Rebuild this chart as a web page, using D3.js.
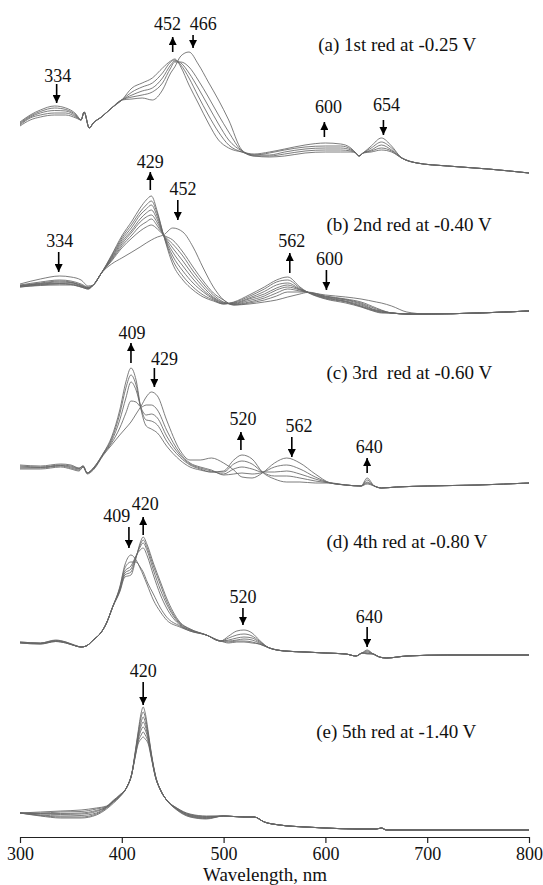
<!DOCTYPE html>
<html>
<head>
<meta charset="utf-8">
<title>Spectral changes on stepwise reduction</title>
<script src="https://d3js.org/d3.v7.min.js"></script>
<style>
  body { margin: 0; background: #fff; }
  svg text { font-family: "Liberation Serif", "Times New Roman", serif; fill: #111; }
</style>
</head>
<body>
<svg id="chart"></svg>
<script>
// ---- data (absorbance, arbitrary units, relative to each panel's baseline) ----

// (a) 1st reduction
const wlA = [300,310,320,334,345,355,360,363,368,372,380,390,400,410,420,430,440,448,452,458,466,475,485,495,505,518,530,545,560,580,600,615,625,630,633,637,645,655,665,675,690,720,760,800];
const specA = [
  [51,58,63,67,65,59,53,61,45,50,56,65,73,74,75,73,83,100,106,117,121,109,91,73,53,23,17,16,17,20,21,21,21,20,17,20,27,35,27,15,10,7,4,0],
  [50,57,61.5,65,63.5,58,53,61,45,50,56,65,73,76,78,81,90,105,111,111,106,93,76,58,41,22,17,17,19,22,23,23,22,20,17,20,25,31,25,15,10,7,4,0],
  [49,56,60,62.5,62,57,53,61,45,50,56,65,73,78,82,85,95,108,112,110,100,85,67,49,33,22,18,18,21,24,25,25,23,20,17,20,23,28,23,15,10,7,4,0],
  [48,55,58,60,60,56,53,61,45,50,56,65,73,81,86,90,100,111,113,108,95,77,58,41,28,21,18,20,23,26,27,27,24,20,17,20,22,25,22,15,10,7,4,0],
  [47,53,56,58,58,55,53,61,45,50,56,65,73,85,90,95,105,112,114,106,88,70,50,33,25,21,19,21,24,28,30,29,25,20,17,20,21,23,21,15,10,7,4,0]
];

// (b) 2nd reduction
const wlB = [300,320,339,350,360,367,372,380,390,400,410,418,424,429,435,441,450,460,470,480,490,500,510,525,540,552,563,575,582,600,620,635,650,655,665,680,700,750,800];
const specB = [
  [28,33,36,35,32,26,27,39,48,54,60,65,69,72,75,77,84,80,65,44,25,12,7,8,10,12,15,18,19.5,17,15,13,10,9,6,0,-2,-1,1],
  [27,30,32,31,28,25,27,39,51,64,74,81,85,87,83,77,72,60,45,31,19,12,7,9,12,16,20,20,20,16,13,10,4,2,-1,-2,-2,-1,1],
  [26.5,29,31,30,27,24.5,27,39,52,66,77,86,90,93,86,77,68,56,41,28,17,10,7.5,10,14,19,23,21,20,15.5,12.5,9,3,1.5,-1,-2,-2,-1,1],
  [26,28.5,30,29.5,26.5,24,27,39,53,68,80,90,95,97,89,77,64,51,37,25,15,9.5,8,11.5,16,22,25,22,20,15,12,8,2,1,-1,-2,-2,-1,1],
  [26,28,29,29,26,24,27,39,54,70,82,93,99,102,92,77,60,46,33,22,14,9,8.5,13,18,24,27,22.5,20,14.5,11,7,1.5,0.5,-1,-2,-2,-1,1],
  [25.5,27.5,28.5,28,25.5,23.5,27,39,55,72,85,97,103,107,95,77,56,41,29,20,13,8.5,9,14,20.5,27,29,23,20,14,10.5,6,1,0,-1,-2,-2,-1,1],
  [25,27,28,27.5,25,23,27,39,56,74,88,100,107,111,98,77,52,36,25,17,12,8,9.5,15.5,23,30,32,24,20,13.5,10,5.5,0.5,-0.5,-1,-2,-2,-1,1],
  [25,26.5,27,27,25,23,27,39,57,76,91,104,112,116,100,77,48,32,22,15,11,8,10,17,25,32,35,25,20,13,9,5,0,-1,-1,-2,-2,-1,1]
];

// (c) 3rd reduction
const wlC = [300,320,340,350,358,362,366,372,382,390,398,404,409,414,419,424,429,435,444,457,467,477,488,500,510,518,528,538,550,562,575,590,605,620,635,641,648,655,670,700,750,800];
const specC = [
  [14,14,16,14,12,16,9,13,28,38,48,55,61,69,77,86,91,87,63,33,23,23,25,20,13,6,5,10,20,25,20,9,0,-2,-3,-1,-3,-5,-4,-3,-2,0],
  [15,15,17,15,13,16,10,14,29,40,55,70,82,81,76,78,78,73,53,30,20,16,13,8,9,10,9,10.5,16,18,14,6,0,-2,-3,0,-3,-5,-4,-3,-2,0],
  [16,15.5,17.5,16,14,17,10,14,29,42,63,85,101,93,75,68,69,65,47,28,19,15,12,9,14,16,14,11,11,12,9,4,0,-2,-3,1,-3,-5,-4,-3,-2,0],
  [17,16,18,17,14.5,17,10,15,30,44,69,95,108,98,74,63,62,58,42,26,18,14,11,11,19,22,19,11,7,7,5,2,0,-2,-3,3,-3,-5,-4,-3,-2,0],
  [18,17,19,18,15,17,10,15,30,46,73,101,115,103,73,57,54,50,37,23,16,13,11,12,23,28,24,11,4,1,1,0,0,-2,-3,5,-3,-5,-4,-3,-2,0]
];

// (d) 4th reduction
const wlD = [300,320,335,345,355,360,365,372,380,385,391,398,403,409,414,418,421,425,431,438,444,457,467,483,497,505,513,520,528,535,545,560,580,600,620,630,636,641,647,653,660,680,720,760,800];
const specD = [
  [13,12,15,13,9.5,8,9,15,23,32,48,68,90,100,95,87,80,70,55,43,35,28,24,20,14,19,24,25,22,15,7,4,3,2,1,-1,2,5,1,-2,-3,-1,0,0,0],
  [13,12,14.5,13,9,8,9,15,23,32,48,67,87,93,93,88,83,73,61,47,38,29,24,20,14,17,20,21,19,14,7,4,3,2,1,-1,2,4,1,-2,-3,-1,0,0,0],
  [12.5,11.5,14,12.5,9,8,9,15,23,32,48,66,84,89,99,105,107,99,80,60,47,30,25,20,14,15,17,18,17,13,7,4,3,2,1,-1,2,3,1,-2,-3,-1,0,0,0],
  [12.5,11.5,14,12.5,9,8,9,15,23,32,48,65,82,86,99,108,112,104,85,65,51,31,25,20,14,14,15,16,15,12,7,4,3,2,1,-1,2,2,1,-2,-3,-1,0,0,0],
  [12,11,13.5,12,9,8,9,15,23,32,48,64,80,83,98,110,115,107,89,70,54,32,26,20,14,13,14,14,13,11,7,4,3,2,1,-1,2,1.5,1,-2,-3,-1,0,0,0],
  [12,11,13.5,12,9,8,9,15,23,32,48,63,78,80,97,112,118,110,92,73,57,33,26,20,14,12,13,13,12,11,7,4,3,2,1,-1,2,1,1,-2,-3,-1,0,0,0]
];

// (e) 5th reduction
const wlE = [300,320,340,360,375,385,392,398,405,410,413,416,419,421,423,426,429,433,438,444,454,467,483,500,520,530,540,555,580,600,630,650,655,660,700,750,800];
const specE = [
  [17,14,12,12,15,21,27,33,43,57,77,98,117,123,117,98,77,55,40,30,20,13,11,14,13,13,8,5,3,2,1,1,2,0,0,0,0],
  [17,14.5,13,13,16,22,28,33.5,43,57,76,96,113,118,113,96,76,54.5,40,30,20.5,13.5,11.5,14,13,13,8,5,3,2,1,1,2,0,0,0,0],
  [17,15,14,14.5,17,22.5,28.5,34,43,57,75,94,108,113,108,94,75,54,40,30,21,14,12,14,13,13,8,5,3,2,1,1,2,0,0,0,0],
  [17,16,15.5,16,18.5,23,29,34,43,57,74.5,92,104,108,104,92,74.5,54,40,30,21,14.5,12.5,14,13,13,8,5,3,2,1,1,2,0,0,0,0],
  [17,16.5,16.5,17,19.5,23,29,34.5,43,57,74,90,100,103,100,90,74,53.5,40,30,21.5,15,13,14,13,13,8,5,3,2,1,1,2,0,0,0,0],
  [17,17,18,18.5,21,23.5,29.5,35,43,57,73,88,95,98,95,88,73,53,40,30,22,15.5,13.5,14,13,13,8,5,3,2,1,1,2,0,0,0,0],
  [17,18,19,20,22,24,30,35,43,57,72,86,91,93,91,86,72,53,40,30,22,16,14,14,13,13,8,5,3,2,1,1,2,0,0,0,0]
];

// vertical offset of each stacked panel (same units)
const panelOffsets = [664, 525, 354, 182, 7];

const captions = [
  "(a) 1st red at -0.25 V",
  "(b) 2nd red at -0.40 V",
  "(c) 3rd  red at -0.60 V",
  "(d) 4th red at -0.80 V",
  "(e) 5th red at -1.40 V"
];
// caption anchor: [wavelength of left edge, baseline value]
const captionAt = [[593, 122], [601, 81], [601, 104], [601, 107], [591, 92]];

// peak labels: label position (lx, ly), arrow at ax from value a0 to a1 (head at a1)
const peaks = [
  {p: 0, t: "334", lx: 337, ly: 91,  ax: 336, a0: 89,  a1: 70},
  {p: 0, t: "452", lx: 445, ly: 143, ax: 450, a0: 121, a1: 136},
  {p: 0, t: "466", lx: 480, ly: 143, ax: 470, a0: 138, a1: 125},
  {p: 0, t: "600", lx: 603, ly: 60,  ax: 599, a0: 36,  a1: 51},
  {p: 0, t: "654", lx: 660, ly: 62,  ax: 657, a0: 53,  a1: 38},
  {p: 1, t: "429", lx: 428, ly: 144, ax: 428, a0: 122, a1: 140},
  {p: 1, t: "452", lx: 460, ly: 117, ax: 455, a0: 112, a1: 92},
  {p: 1, t: "334", lx: 339, ly: 65,  ax: 338, a0: 60,  a1: 40},
  {p: 1, t: "562", lx: 567, ly: 65,  ax: 565, a0: 39,  a1: 59},
  {p: 1, t: "600", lx: 604, ly: 47,  ax: 601, a0: 42,  a1: 22},
  {p: 2, t: "409", lx: 410, ly: 144, ax: 409, a0: 120, a1: 140},
  {p: 2, t: "429", lx: 442, ly: 118, ax: 432, a0: 115, a1: 96},
  {p: 2, t: "520", lx: 519, ly: 58,  ax: 517, a0: 33,  a1: 51},
  {p: 2, t: "562", lx: 574, ly: 51,  ax: 567, a0: 46,  a1: 26},
  {p: 2, t: "640", lx: 643, ly: 30,  ax: 641, a0: 10,  a1: 25},
  {p: 3, t: "409", lx: 395, ly: 133, ax: 407, a0: 128, a1: 107},
  {p: 3, t: "420", lx: 423, ly: 145, ax: 421, a0: 120, a1: 138},
  {p: 3, t: "520", lx: 519, ly: 52,  ax: 519, a0: 47,  a1: 30},
  {p: 3, t: "640", lx: 643, ly: 32,  ax: 641, a0: 28,  a1: 8},
  {p: 4, t: "420", lx: 421, ly: 153, ax: 421, a0: 148, a1: 125}
];

const xTicks = [300, 400, 500, 600, 700, 800];
const xTitle = "Wavelength, nm";

// ---- drawing ----
const width = 543, height = 885;
const svg = d3.select("#chart").attr("width", width).attr("height", height);

const x = d3.scaleLinear().domain([300, 800]).range([20, 529]);
const y = d3.scaleLinear().domain([0, 837]).range([837, 0]);

const panels = [
  {wl: wlA, spec: specA},
  {wl: wlB, spec: specB},
  {wl: wlC, spec: specC},
  {wl: wlD, spec: specD},
  {wl: wlE, spec: specE}
];

svg.append("defs").append("marker")
  .attr("id", "head")
  .attr("viewBox", "0 0 10 10")
  .attr("refX", 10).attr("refY", 5)
  .attr("markerUnits", "userSpaceOnUse")
  .attr("markerWidth", 8).attr("markerHeight", 8)
  .attr("orient", "auto")
  .append("path")
  .attr("d", "M0,0L10,5L0,10Z")
  .attr("fill", "#000");

panels.forEach(function (pn, k) {
  const off = panelOffsets[k];
  const line = d3.line()
    .x(function (d, i) { return x(pn.wl[i]); })
    .y(function (d) { return y(off + d); })
    .curve(d3.curveMonotoneX);

  svg.append("g")
    .selectAll("path")
    .data(pn.spec)
    .join("path")
    .attr("d", line)
    .attr("fill", "none")
    .attr("stroke", "#666")
    .attr("stroke-width", 1)
    .attr("stroke-opacity", 0.85);

  svg.append("text")
    .attr("x", x(captionAt[k][0]))
    .attr("y", y(off + captionAt[k][1]))
    .style("white-space", "pre")
    .attr("font-size", 19)
    .text(captions[k]);
});

// peak annotations
const notes = svg.append("g");
notes.selectAll("text")
  .data(peaks)
  .join("text")
  .attr("x", function (d) { return x(d.lx); })
  .attr("y", function (d) { return y(panelOffsets[d.p] + d.ly); })
  .attr("text-anchor", "middle")
  .attr("font-size", 18)
  .text(function (d) { return d.t; });

notes.selectAll("line")
  .data(peaks)
  .join("line")
  .attr("x1", function (d) { return x(d.ax); })
  .attr("x2", function (d) { return x(d.ax); })
  .attr("y1", function (d) { return y(panelOffsets[d.p] + d.a0); })
  .attr("y2", function (d) { return y(panelOffsets[d.p] + d.a1); })
  .attr("stroke", "#000")
  .attr("stroke-width", 1.6)
  .attr("marker-end", "url(#head)");

// x axis
const axis = svg.append("g")
  .attr("transform", "translate(0," + y(0) + ")")
  .call(d3.axisBottom(x).tickValues(xTicks).tickSize(6).tickSizeOuter(0).tickPadding(4));
axis.select(".domain").attr("stroke", "#222").attr("stroke-width", 1.2);
axis.selectAll(".tick line").attr("stroke", "#222").attr("stroke-width", 1.2);
axis.selectAll(".tick text")
  .attr("font-family", "Liberation Serif, Times New Roman, serif")
  .attr("font-size", 18)
  .attr("fill", "#111");

svg.append("text")
  .attr("x", 265)
  .attr("y", 881)
  .attr("text-anchor", "middle")
  .attr("font-size", 19)
  .text(xTitle);
</script>
</body>
</html>
